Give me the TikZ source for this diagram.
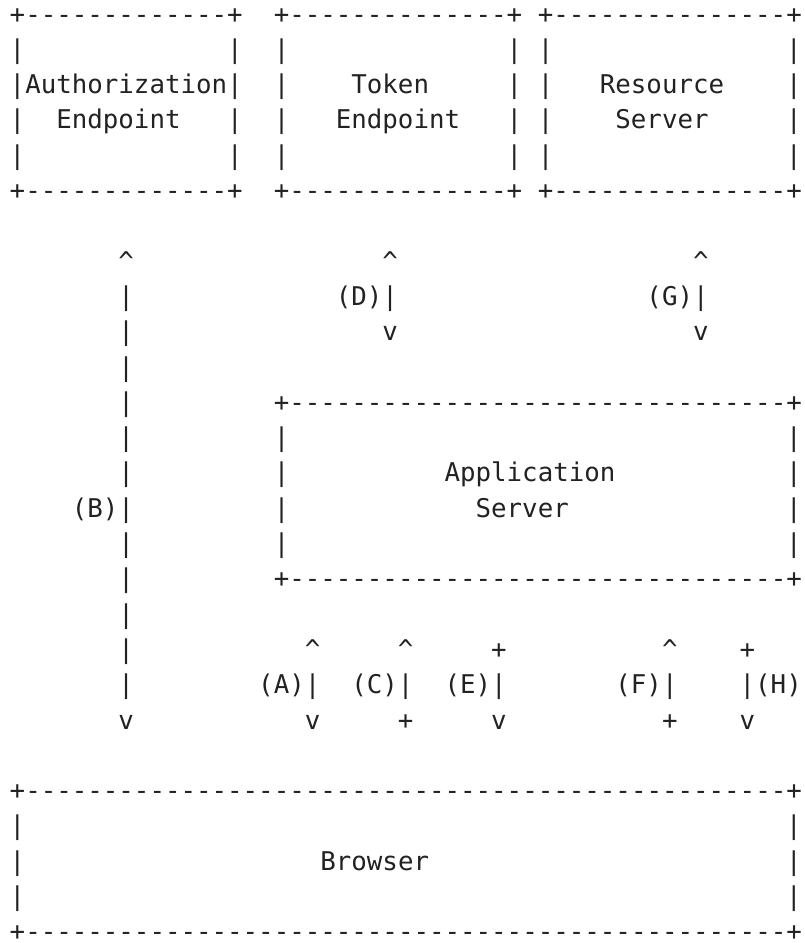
\documentclass[tikz,border=0pt]{standalone}
\usepackage{fontspec}
\setmonofont{DejaVu Sans Mono}
\definecolor{ink}{RGB}{34,34,34}
\ExplSyntaxOn
\cs_new:Npn \dsh #1 {\prg_replicate:nn{#1}{-}}
\ExplSyntaxOff
\tikzset{glyphs/.style={anchor=base west,inner sep=0pt,outer sep=0pt,text=ink,font=\ttfamily\fontsize{25.8}{30}\selectfont}}
\newcommand\frag[4]{\node[glyphs] (#1) at ({9.74+15.53*(#2)},{-(23+35.3*(#3))}) {#4};}
\newcommand\up{\textasciicircum}
\begin{document}
\begin{tikzpicture}[x=1pt,y=1pt]
\useasboundingbox (0,0) rectangle (804,-943);
% top boxes
\frag{aeTop}{0}{0}{+\dsh{13}+}
\frag{teTop}{17}{0}{+\dsh{14}+}
\frag{rsTop}{34}{0}{+\dsh{15}+}
\foreach \r in {1,2,3,4}{
  \frag{aeL\r}{0}{\r}{|}\frag{aeR\r}{14}{\r}{|}
  \frag{teL\r}{17}{\r}{|}\frag{teR\r}{32}{\r}{|}
  \frag{rsL\r}{34}{\r}{|}\frag{rsR\r}{50}{\r}{|}
}
\frag{aeT1}{1}{2}{Authorization}
\frag{aeT2}{3}{3}{Endpoint}
\frag{teT1}{22}{2}{Token}
\frag{teT2}{21}{3}{Endpoint}
\frag{rsT1}{38}{2}{Resource}
\frag{rsT2}{39}{3}{Server}
\frag{aeBot}{0}{5}{+\dsh{13}+}
\frag{teBot}{17}{5}{+\dsh{14}+}
\frag{rsBot}{34}{5}{+\dsh{15}+}
% (B) line
\frag{bUp}{7}{7}{\up}
\foreach \r in {8,...,19}{\frag{bBar\r}{7}{\r}{|}}
\frag{bLab}{4}{14}{(B)}
\frag{bDn}{7}{20}{v}
% (D)
\frag{dUp}{24}{7}{\up}
\frag{dLab}{21}{8}{(D)}
\frag{dBar}{24}{8}{|}
\frag{dDn}{24}{9}{v}
% (G)
\frag{gUp}{44}{7}{\up}
\frag{gLab}{41}{8}{(G)}
\frag{gBar}{44}{8}{|}
\frag{gDn}{44}{9}{v}
% Application server
\frag{asTop}{17}{11}{+\dsh{32}+}
\foreach \r in {12,...,15}{\frag{asL\r}{17}{\r}{|}\frag{asR\r}{50}{\r}{|}}
\frag{asT1}{28}{13}{Application}
\frag{asT2}{30}{14}{Server}
\frag{asBot}{17}{16}{+\dsh{32}+}
% (A)
\frag{aUp}{19}{18}{\up}
\frag{aLab}{16}{19}{(A)}
\frag{aBar}{19}{19}{|}
\frag{aDn}{19}{20}{v}
% (C)
\frag{cUp}{25}{18}{\up}
\frag{cLab}{22}{19}{(C)}
\frag{cBar}{25}{19}{|}
\frag{cEnd}{25}{20}{+}
% (E)
\frag{eTop}{31}{18}{+}
\frag{eLab}{28}{19}{(E)}
\frag{eBar}{31}{19}{|}
\frag{eDn}{31}{20}{v}
% (F)
\frag{fUp}{42}{18}{\up}
\frag{fLab}{39}{19}{(F)}
\frag{fBar}{42}{19}{|}
\frag{fEnd}{42}{20}{+}
% (H)
\frag{hTop}{47}{18}{+}
\frag{hBar}{47}{19}{|}
\frag{hLab}{48}{19}{(H)}
\frag{hDn}{47}{20}{v}
% Browser
\frag{brTop}{0}{22}{+\dsh{49}+}
\foreach \r in {23,24,25}{\frag{brL\r}{0}{\r}{|}\frag{brR\r}{50}{\r}{|}}
\frag{brT}{20}{24}{Browser}
\frag{brBot}{0}{26}{+\dsh{49}+}
\end{tikzpicture}
\end{document}
